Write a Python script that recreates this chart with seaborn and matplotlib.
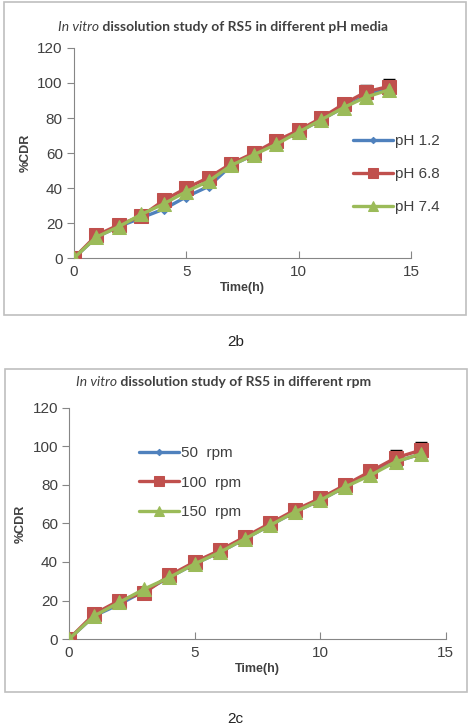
import numpy as np
import pandas as pd
import matplotlib.pyplot as plt
import seaborn as sns
from matplotlib.patches import Rectangle

# data
time_h = list(range(15))

ph_labels = ['pH 1.2', 'pH 6.8', 'pH 7.4']
ph_12 = [0, 12, 18, 23, 28, 35, 41, 53, 59, 66, 72, 79, 86, 93, 97]
ph_68 = [0, 13, 19, 24, 33, 40, 46, 54, 60, 67, 73, 80, 88, 95, 98]
ph_74 = [0, 12, 18, 25, 31, 38, 44, 53, 59, 65, 72, 79, 86, 92, 96]

rpm_labels = ['50  rpm', '100  rpm', '150  rpm']
rpm_50 = [0, 12, 18, 25, 32, 39, 45, 52, 59, 66, 72, 79, 86, 92, 96]
rpm_100 = [0, 13, 20, 24, 33, 40, 46, 53, 60, 67, 73, 80, 87, 94, 98]
rpm_150 = [0, 12, 19, 26, 32, 39, 45, 52, 59, 66, 72, 79, 85, 92, 96]

# small error bars (only visible on the later points)
err_68 = [0, 1, 1, 1, 1, 1, 1, 1, 1, 1, 1, 1, 3.5, 4, 4.5]
err_100 = [0, 1, 1, 2, 1, 1, 1, 1, 1, 1, 1, 1, 3.5, 4, 4.5]

colors = ['#4F81BD', '#C0504D', '#9BBB59']
markers = ['D', 's', '^']
msizes = [5, 10, 10]

sns.set_style('white')
plt.rcParams['font.family'] = ['Liberation Sans', 'DejaVu Sans']


def long_df(labels, series):
    rows = []
    for lab, vals in zip(labels, series):
        for t, v in zip(time_h, vals):
            rows.append({'Time': t, 'CDR': v, 'group': lab})
    return pd.DataFrame(rows)


def draw_panel(ax, labels, series, err, legend_loc):
    df = long_df(labels, series)
    for i, lab in enumerate(labels):
        sub = df[df['group'] == lab]
        if i == 1:
            ax.errorbar(sub['Time'], sub['CDR'], yerr=err, fmt='none',
                        ecolor='black', elinewidth=1, capsize=4, zorder=2)
        sns.lineplot(data=sub, x='Time', y='CDR', ax=ax, color=colors[i],
                     marker=markers[i], markersize=msizes[i], linewidth=2.4,
                     markeredgecolor=colors[i], label=lab, zorder=3 + i)
    ax.set_xlim(0, 15)
    ax.set_ylim(0, 120)
    ax.set_xticks([0, 5, 10, 15])
    ax.set_yticks(range(0, 121, 20))
    ax.set_xlabel('Time(h)', fontsize=9, fontweight='bold', color='#404040', labelpad=2)
    ax.set_ylabel('%CDR', fontsize=9, fontweight='bold', color='#404040', labelpad=4)
    for s in ['top', 'right']:
        ax.spines[s].set_visible(False)
    for s in ['left', 'bottom']:
        ax.spines[s].set_color('#868686')
        ax.spines[s].set_linewidth(0.8)
    ax.tick_params(axis='x', direction='in', length=5, color='#868686',
                   labelsize=11, labelcolor='#404040', pad=5)
    ax.tick_params(axis='y', direction='out', length=5, color='#868686',
                   labelsize=11, labelcolor='#404040', pad=3)
    ax.tick_params(left=True, bottom=True)
    ax.patch.set_alpha(0)
    leg = ax.legend(loc=legend_loc[0], bbox_to_anchor=legend_loc[1], frameon=False,
                    fontsize=11, handlelength=2.6, handletextpad=0.15,
                    labelspacing=legend_loc[2], borderaxespad=0, markerscale=0.65)
    for t in leg.get_texts():
        t.set_color('#404040')


fig = plt.figure(figsize=(4.71, 7.27), dpi=100)

# outer frames
for box in [(0.0085, 0.5667, 0.981, 0.4305), (0.0106, 0.048, 0.981, 0.444)]:
    fig.patches.append(Rectangle(box[:2], box[2], box[3], transform=fig.transFigure,
                                 fill=False, edgecolor='#BFBFBF', linewidth=1.2))

ax1 = fig.add_axes([0.157, 0.645, 0.716, 0.289])
draw_panel(ax1, ph_labels, [ph_12, ph_68, ph_74], err_68,
           ('upper left', (0.81, 0.62), 1.25))

ax2 = fig.add_axes([0.1465, 0.121, 0.80, 0.318])
draw_panel(ax2, rpm_labels, [rpm_50, rpm_100, rpm_150], err_100,
           ('upper left', (0.17, 0.86), 1.0))

# titles: italic "In vitro" followed by bold text
for (x, y, rest) in [(0.123, 0.958, ' dissolution study of RS5 in different pH media'),
                     (0.162, 0.469, ' dissolution study of RS5 in different rpm')]:
    t1 = fig.text(x, y, 'In vitro', fontsize=10, style='italic', color='#404040',
                  family=['Lato', 'DejaVu Sans'])
    fig.canvas.draw()
    bb = t1.get_window_extent().transformed(fig.transFigure.inverted())
    fig.text(bb.x1, y, rest, fontsize=10, fontweight='bold', color='#404040',
             family=['Lato', 'DejaVu Sans'])

fig.text(0.5, 0.529, '2b', ha='center', va='center', fontsize=11, color='#222222')
fig.text(0.5, 0.011, '2c', ha='center', va='center', fontsize=11, color='#222222')

plt.savefig('out.png', dpi=100)
